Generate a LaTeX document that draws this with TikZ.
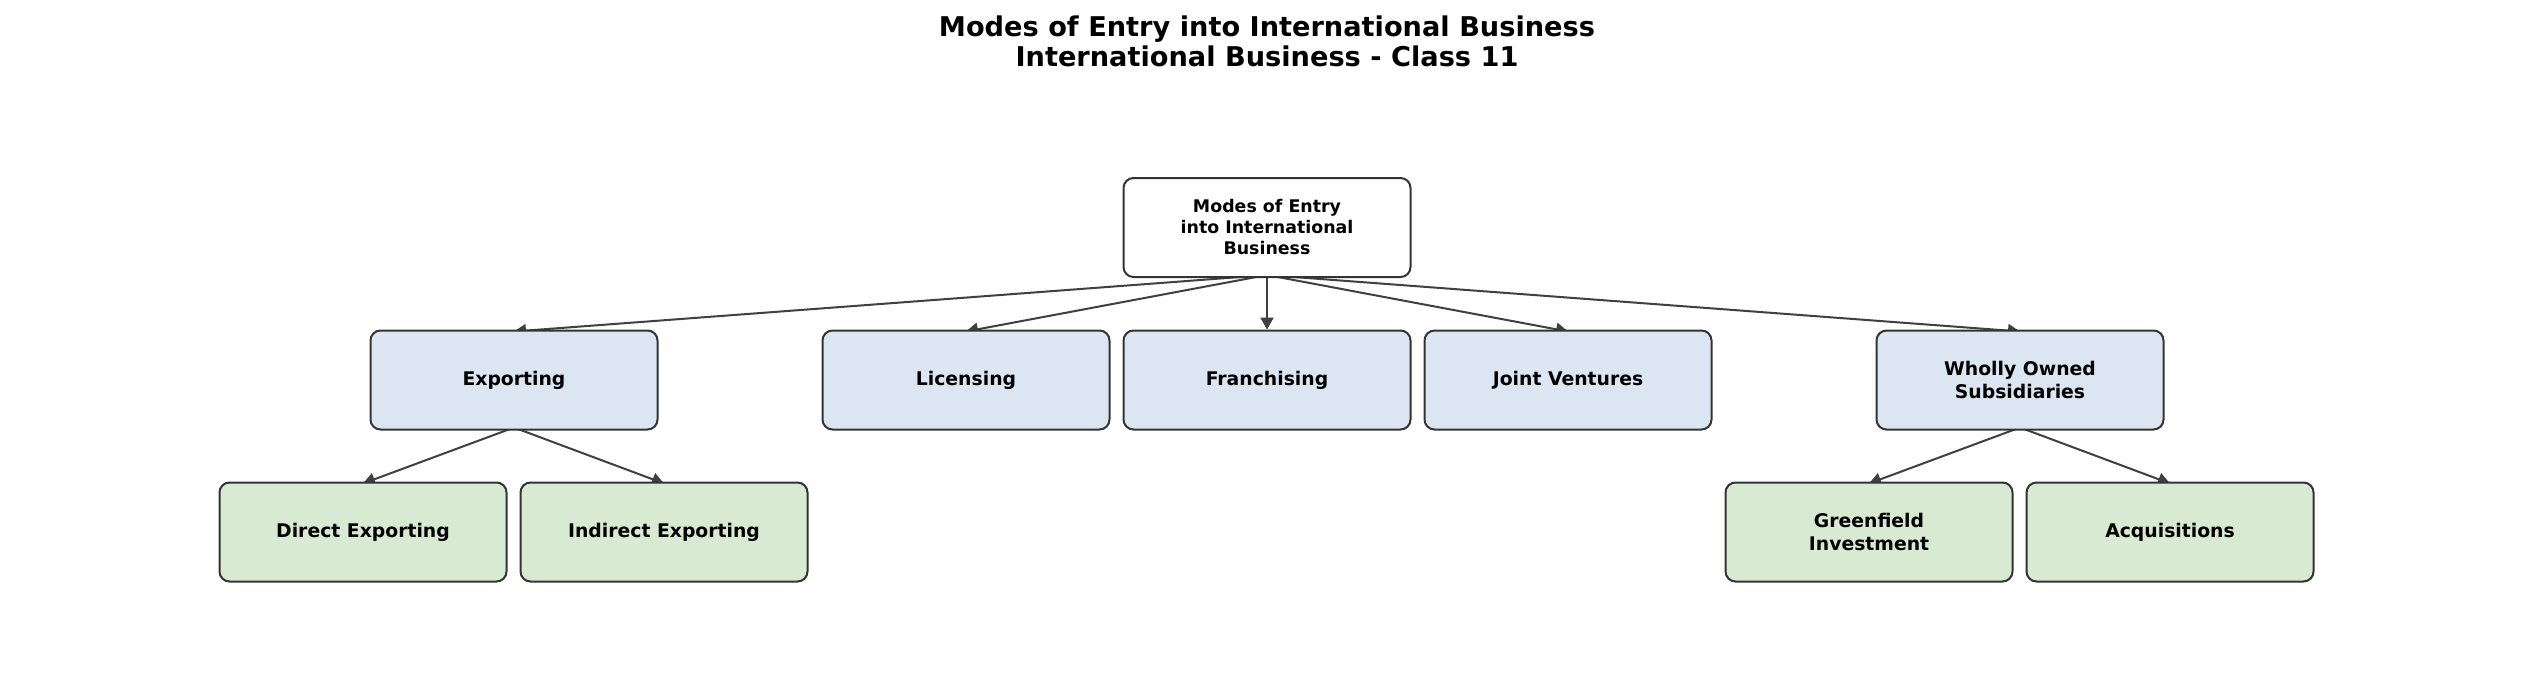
\documentclass[tikz,border=0pt]{standalone}
\usepackage{fontspec}
\setmainfont{DejaVu Sans}
\usetikzlibrary{arrows.meta}
\pgfdeclarelayer{background}
\pgfdeclarelayer{canvas}
\pgfsetlayers{canvas,background,main}
\definecolor{bordergray}{HTML}{333333}
\definecolor{arrowgray}{HTML}{404040}
\definecolor{levelblue}{HTML}{DCE6F2}
\definecolor{levelgreen}{HTML}{D9EAD3}
\tikzset{
  box/.style={draw=bordergray, line width=2pt, rounded corners=10pt,
    minimum width=287pt, minimum height=99pt, align=center, inner sep=0pt,
    font=\fontsize{18.8}{22.6}\selectfont\bfseries, text=black},
  rootbox/.style={box, fill=white, font=\fontsize{17.4}{21}\selectfont\bfseries},
  bluebox/.style={box, fill=levelblue},
  greenbox/.style={box, fill=levelgreen},
  arr/.style={draw=arrowgray, line width=2pt, -{Triangle[length=12pt,width=13pt]}},
  titletext/.style={align=center, inner sep=0pt, font=\fontsize{27.2}{30}\selectfont\bfseries}
}
\begin{document}
\begin{tikzpicture}[x=1pt,y=-1pt]
\begin{pgfonlayer}{canvas}
\fill[white] (0,0) rectangle (2534,699);
\end{pgfonlayer}
\useasboundingbox (0,0) rectangle (2534,699);
\node[titletext] (title) at (1267,41) {Modes of Entry into International Business\\International Business - Class 11};
\node[rootbox] (root) at (1267,227.5) {Modes of Entry\\into International\\Business};
\node[bluebox] (exp) at (514,380) {Exporting};
\node[bluebox] (lic) at (966,380) {Licensing};
\node[bluebox] (fra) at (1267,380) {Franchising};
\node[bluebox] (jv) at (1568,380) {Joint Ventures};
\node[bluebox] (wos) at (2020,380) {Wholly Owned\\Subsidiaries};
\node[greenbox] (dir) at (363,532) {Direct Exporting};
\node[greenbox] (ind) at (664,532) {Indirect Exporting};
\node[greenbox] (gre) at (1869,532) {Greenfield\\Investment};
\node[greenbox] (acq) at (2170,532) {Acquisitions};
\begin{pgfonlayer}{background}
\draw[arr] ([yshift=3pt]root.south) -- ([yshift=-2pt]exp.north);
\draw[arr] ([yshift=3pt]root.south) -- ([yshift=-2pt]lic.north);
\draw[arr] ([yshift=3pt]root.south) -- (fra.north);
\draw[arr] ([yshift=3pt]root.south) -- ([yshift=-2pt]jv.north);
\draw[arr] ([yshift=3pt]root.south) -- ([yshift=-2pt]wos.north);
\draw[arr] ([yshift=3pt]exp.south) -- ([yshift=-2pt]dir.north);
\draw[arr] ([yshift=3pt]exp.south) -- ([yshift=-2pt]ind.north);
\draw[arr] ([yshift=3pt]wos.south) -- ([yshift=-2pt]gre.north);
\draw[arr] ([yshift=3pt]wos.south) -- ([yshift=-2pt]acq.north);
\end{pgfonlayer}
\end{tikzpicture}
\end{document}
